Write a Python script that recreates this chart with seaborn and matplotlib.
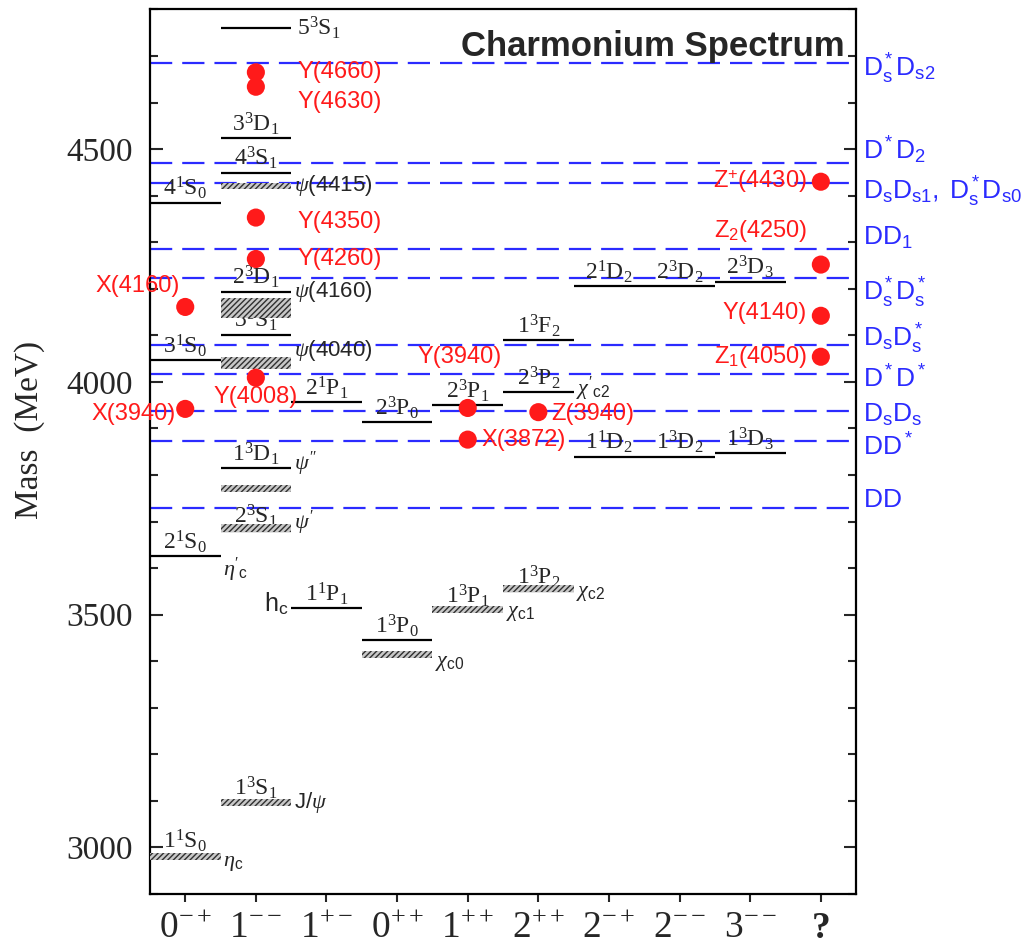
import numpy as np
import pandas as pd
import matplotlib
matplotlib.use('Agg')
import matplotlib.pyplot as plt
import matplotlib.transforms as mtransforms
from matplotlib.ticker import MultipleLocator
import seaborn as sns

# --- Data (masses in MeV) ---
JPC = [r'$\mathrm{0^{-+}}$', r'$\mathrm{1^{--}}$', r'$\mathrm{1^{+-}}$', r'$\mathrm{0^{++}}$',
       r'$\mathrm{1^{++}}$', r'$\mathrm{2^{++}}$', r'$\mathrm{2^{-+}}$', r'$\mathrm{2^{--}}$',
       r'$\mathrm{3^{--}}$', '?']

# predicted levels (solid lines)
lvl_col = [0, 0, 0, 0,
           1, 1, 1, 1, 1, 1, 1, 1,
           2, 2, 3, 3, 4, 4, 5, 5, 5,
           6, 6, 7, 7, 8, 8]
lvl_mass = [2982, 3626, 4046, 4385,
            3097, 3680, 3815, 4101, 4194, 4449, 4523, 4761,
            3514, 3956, 3445, 3914, 3510, 3950, 3550, 3978, 4090,
            3839, 4206, 3839, 4206, 3847, 4215]
lvl_name = ['1^1S_0', '2^1S_0', '3^1S_0', '4^1S_0',
            '1^3S_1', '2^3S_1', '1^3D_1', '3^3S_1', '2^3D_1', '4^3S_1', '3^3D_1', '5^3S_1',
            '1^1P_1', '2^1P_1', '1^3P_0', '2^3P_0', '1^3P_1', '2^3P_1', '1^3P_2', '2^3P_2', '1^3F_2',
            '1^1D_2', '2^1D_2', '1^3D_2', '2^3D_2', '1^3D_3', '2^3D_3']

# observed states (hatched bands)
band_col = [0, 1, 1, 1, 1, 1, 1, 3, 4, 5]
band_mass = [2980, 3097, 3686, 3772, 4040, 4159, 4421, 3415, 3511, 3556]
band_thick = [14, 14, 18, 15, 26, 44, 12, 15, 14, 15]

# names of the observed states
nm_col = [0, 0, 1, 1, 1, 1, 1, 1, 2, 3, 4, 5, 5]
nm_mass = [2980, 3626, 3097, 3686, 3815, 4040, 4159, 4421, 3514, 3415, 3511, 3556, 3978]
nm_text = [r'$\eta_\mathsf{c}$', r"$\eta'_\mathsf{c}$", r'J/$\psi$', r"$\psi'$", r"$\psi''$",
           r'$\psi$(4040)', r'$\psi$(4160)', r'$\psi$(4415)', r'h$_\mathsf{c}$',
           r'$\chi_\mathsf{c0}$', r'$\chi_\mathsf{c1}$', r'$\chi_\mathsf{c2}$', r"$\chi'_\mathsf{c2}$"]
nm_side = ['r', 'r', 'r', 'r', 'r', 'r', 'r', 'r', 'l', 'r', 'r', 'r', 'r']

# exotic / XYZ candidates (red dots)
xyz_col = [0, 0, 1, 1, 1, 1, 1, 4, 4, 5, 9, 9, 9, 9]
xyz_mass = [3942, 4161, 4009, 4264, 4353, 4634, 4665, 3944, 3876, 3935, 4430, 4252, 4142, 4054]
xyz_name = ['X(3940)', 'X(4160)', 'Y(4008)', 'Y(4260)', 'Y(4350)', 'Y(4630)', 'Y(4660)',
            'Y(3940)', 'X(3872)', 'Z(3940)', r'Z$^\mathsf{+}$(4430)', r'Z$_\mathsf{2}$(4250)',
            'Y(4140)', r'Z$_\mathsf{1}$(4050)']

# open-charm thresholds (dashed lines)
thr_mass = [4685, 4470, 4428, 4286, 4224, 4080, 4016, 3937, 3873, 3729]
thr_name = [r'$\mathsf{D^*_sD_{s2}}$', r'$\mathsf{D^*D_2}$',
            r'$\mathsf{D_sD_{s1},\ D^*_sD_{s0}}$', r'$\mathsf{DD_1}$',
            r'$\mathsf{D^*_sD^*_s}$', r'$\mathsf{D_sD^*_s}$', r'$\mathsf{D^*D^*}$',
            r'$\mathsf{D_sD_s}$', r'$\mathsf{DD^*}$', r'$\mathsf{DD}$']

# --- Layout tweaks for the labels (points) ---
nm_dy = [-4, -10, 0, 4, 3, 9, 12, 0, 3, -6, -2, -3, 2]
xyz_off = [(-7, -4), (-4, 15), (0, -14), (30, 0), (30, -3), (30, -11), (30, 0),
           (-6, 37), (10, 0), (9, -1), (-10, 0), (-10, 24), (-10, 2), (-10, 0)]
xyz_ha = ['right', 'right', 'center', 'left', 'left', 'left', 'left',
          'center', 'left', 'left', 'right', 'right', 'right', 'right']
thr_dy = [-4, 9, -7, 8, -11, 4, -3, -3, -4, 6]

BLUE = '#2b2bff'
RED = '#ff1a1a'

sns.set_style('ticks')
plt.rcParams['font.family'] = ['Liberation Sans', 'DejaVu Sans']
plt.rcParams['mathtext.fontset'] = 'custom'
plt.rcParams['mathtext.rm'] = 'Liberation Serif'
plt.rcParams['mathtext.it'] = 'Liberation Serif:italic'
plt.rcParams['mathtext.bf'] = 'Liberation Serif:bold'
plt.rcParams['mathtext.sf'] = 'Liberation Sans'
plt.rcParams['hatch.linewidth'] = 1.0

fig = plt.figure(figsize=(10.34, 9.48), dpi=100)
ax = fig.add_axes([0.145, 0.057, 0.683, 0.933])

# thresholds
trans = mtransforms.blended_transform_factory(ax.transAxes, ax.transData)
for m, name, dy in zip(thr_mass, thr_name, thr_dy):
    ax.axhline(m, color=BLUE, lw=1.6, ls=(0, (10, 4.5)), zorder=1.5)
    ax.annotate(name, (1.0, m), xycoords=trans, xytext=(5, dy), textcoords='offset points',
                ha='left', va='center', color=BLUE, fontsize=19, annotation_clip=False)

# predicted levels
ax.hlines(lvl_mass, np.array(lvl_col) - 0.5, np.array(lvl_col) + 0.5, color='black', lw=1.6, zorder=2)
for c, m, name in zip(lvl_col, lvl_mass, lvl_name):
    txt = '$\\mathrm{' + name + '}$'
    if name == '5^3S_1':
        ax.annotate(txt, (c + 0.5, m), xytext=(4, 0), textcoords='offset points',
                    ha='left', va='center', fontsize=17)
    else:
        ax.annotate(txt, (c, m), xytext=(0, 1), textcoords='offset points',
                    ha='center', va='bottom', fontsize=17)

# observed bands
ax.bar(band_col, band_thick, bottom=np.array(band_mass) - np.array(band_thick) / 2, width=1.0,
       color='#c8c8c8', edgecolor='#303030', hatch='//////', linewidth=0, zorder=3)

for c, m, txt, side, dy in zip(nm_col, nm_mass, nm_text, nm_side, nm_dy):
    if side == 'r':
        ax.annotate(txt, (c + 0.5, m), xytext=(2, dy), textcoords='offset points',
                    ha='left', va='center', fontsize=16)
    else:
        ax.annotate(txt, (c - 0.5, m), xytext=(-2, dy), textcoords='offset points',
                    ha='right', va='center', fontsize=18)

# XYZ states
xyz = pd.DataFrame({'col': xyz_col, 'mass': xyz_mass})
sns.scatterplot(data=xyz, x='col', y='mass', color=RED, s=170, edgecolor='none',
                legend=False, ax=ax, zorder=5)
for c, m, name, off, ha in zip(xyz_col, xyz_mass, xyz_name, xyz_off, xyz_ha):
    ax.annotate(name, (c, m), xytext=off, textcoords='offset points',
                ha=ha, va='center', color=RED, fontsize=17, zorder=6)

ax.text(0.984, 0.977, 'Charmonium Spectrum', transform=ax.transAxes, ha='right', va='top',
        fontsize=25, fontweight='bold')

# axes
ax.set_xlim(-0.5, 9.5)
ax.set_ylim(2900, 4800)
ax.set_xticks(range(len(JPC)))
ax.set_xticklabels(JPC, fontsize=27, family='Liberation Serif')
ax.get_xticklabels()[-1].set_fontweight('bold')
ax.set_yticks([3000, 3500, 4000, 4500])
ax.set_yticklabels(['3000', '3500', '4000', '4500'], fontsize=24, family='Liberation Serif')
ax.yaxis.set_minor_locator(MultipleLocator(100))
ax.tick_params(axis='y', which='both', direction='in', left=True, right=True, width=1.5, pad=12)
ax.tick_params(axis='y', which='major', length=9)
ax.tick_params(axis='y', which='minor', length=6)
ax.tick_params(axis='x', direction='out', length=6, width=1.5, pad=6, top=False)
ax.set_xlabel('')
ax.set_ylabel('Mass  (MeV)', fontsize=24, family='Liberation Serif')
ax.yaxis.set_label_coords(-0.148, 0.525)
for sp in ax.spines.values():
    sp.set_visible(True)
    sp.set_linewidth(1.6)
    sp.set_color('black')

fig.savefig('out.png', dpi=100)
